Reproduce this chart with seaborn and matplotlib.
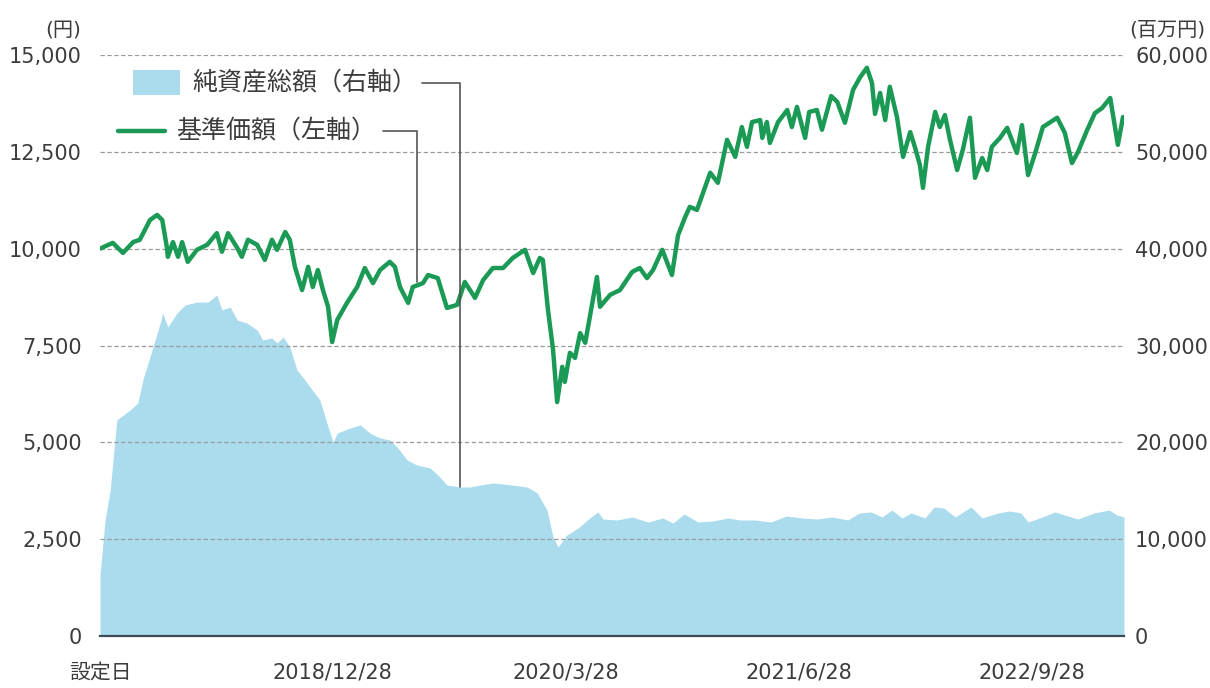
import matplotlib
matplotlib.use("Agg")
import matplotlib.pyplot as plt
import seaborn as sns
import pandas as pd
from matplotlib.lines import Line2D
from matplotlib.patches import Rectangle

# ---------------- data ----------------
start_date = "2017-09-28"
tick_dates = ["2017-09-28", "2018-12-28", "2020-03-28", "2021-06-28", "2022-09-28"]
tick_labels = ["設定日", "2018/12/28", "2020/3/28", "2021/6/28", "2022/9/28"]
end_day = 2007

# 基準価額 (円), x = days since 設定日
price_days = [0, 25, 45, 65, 78, 98, 112, 122, 131, 133, 143, 153, 161, 172, 190, 210, 229, 239,
              251, 269, 278, 290, 308, 323, 337, 347, 363, 372, 382, 396, 408, 417, 427, 437,
              447, 455, 465, 484, 504, 519, 535, 549, 568, 578, 588, 604, 613, 633, 643, 662,
              680, 700, 715, 735, 751, 770, 790, 809, 833, 849, 862, 868, 878, 888, 896, 906,
              911, 921, 931, 941, 951, 960, 974, 980, 1000, 1019, 1043, 1058, 1072, 1084, 1102,
              1121, 1133, 1147, 1156, 1170, 1182, 1196, 1211, 1229, 1245, 1258, 1268, 1278,
              1294, 1298, 1307, 1313, 1329, 1347, 1356, 1366, 1382, 1390, 1405, 1415, 1433,
              1445, 1460, 1476, 1490, 1503, 1513, 1519, 1529, 1539, 1548, 1562, 1574, 1588,
              1597, 1607, 1613, 1623, 1637, 1646, 1656, 1666, 1680, 1691, 1705, 1715, 1729,
              1739, 1748, 1764, 1778, 1797, 1807, 1819, 1833, 1848, 1876, 1891, 1905, 1917,
              1935, 1950, 1964, 1980, 1995, 2005]
price_values = [10000, 10150, 9890, 10170, 10230, 10740, 10870, 10740, 10040, 9790, 10170, 9790,
                10170, 9660, 9970, 10100, 10400, 9920, 10400, 10020, 9790, 10230, 10100, 9710,
                10230, 9970, 10430, 10230, 9530, 8930, 9530, 9010, 9450, 8930, 8500, 7590,
                8160, 8600, 9010, 9500, 9110, 9450, 9660, 9530, 9010, 8600, 9010, 9110, 9320,
                9240, 8470, 8550, 9140, 8730, 9190, 9500, 9500, 9760, 9970, 9370, 9760, 9710,
                8420, 7390, 6040, 6950, 6560, 7310, 7180, 7820, 7570, 8240, 9270, 8500, 8810,
                8930, 9400, 9500, 9240, 9450, 9970, 9320, 10350, 10820, 11080, 11000, 11440,
                11960, 11700, 12810, 12370, 13140, 12630, 13270, 13320, 12860, 13270, 12730,
                13270, 13580, 13140, 13660, 12860, 13530, 13580, 13070, 13940, 13790, 13250,
                14100, 14430, 14670, 14280, 13480, 14020, 13320, 14180, 13400, 12370, 13010,
                12630, 12160, 11570, 12630, 13530, 13140, 13450, 12810, 12030, 12550, 13380,
                11830, 12340, 12030, 12630, 12860, 13120, 12470, 13190, 11900, 12470, 13140,
                13380, 12990, 12210, 12500, 13070, 13500, 13630, 13890, 12680, 13400]

# 純資産総額 (百万円)
nav_days = [0, 10, 20, 33, 59, 74, 84, 102, 118, 123, 133, 151, 167, 190, 212, 229, 239, 255,
            269, 288, 308, 319, 337, 347, 359, 372, 386, 406, 416, 431, 447, 457, 465, 490,
            510, 529, 549, 568, 582, 602, 621, 647, 666, 680, 706, 725, 745, 770, 809, 837,
            857, 876, 888, 898, 915, 937, 960, 976, 986, 1013, 1043, 1074, 1103, 1123, 1145,
            1172, 1201, 1231, 1254, 1284, 1315, 1345, 1376, 1405, 1435, 1466, 1488, 1511,
            1533, 1552, 1572, 1590, 1617, 1635, 1654, 1676, 1707, 1729, 1760, 1782, 1805,
            1819, 1842, 1872, 1903, 1917, 1948, 1978, 1993, 2007]
nav_values = [6300, 11980, 15080, 22310, 23340, 24060, 26440, 29540, 32320, 33360, 31910,
              33360, 34180, 34490, 34490, 35220, 33670, 33980, 32630, 32320, 31600, 30570,
              30770, 30260, 30880, 29850, 27470, 26130, 25400, 24370, 21580, 20030, 20960,
              21480, 21790, 20960, 20450, 20240, 19520, 18180, 17660, 17350, 16420, 15590,
              15390, 15390, 15590, 15800, 15590, 15390, 14770, 13010, 10220, 9190, 10430,
              11150, 12190, 12810, 12080, 11980, 12290, 11770, 12190, 11670, 12600, 11770,
              11880, 12190, 11980, 11980, 11770, 12390, 12190, 12080, 12290, 11980, 12700,
              12810, 12290, 13010, 12190, 12700, 12190, 13320, 13220, 12290, 13320, 12190,
              12700, 12910, 12700, 11770, 12190, 12810, 12290, 12080, 12700, 13010, 12500,
              12290]

left_ticks = [0, 2500, 5000, 7500, 10000, 12500, 15000]
right_ticks = [0, 10000, 20000, 30000, 40000, 50000, 60000]

# ---------------- style ----------------
sns.set_style("white")
plt.rcParams["font.family"] = ["DejaVu Sans", "Noto Sans CJK JP"]

GREEN = "#1b9a55"
BLUE = "#aadcee"
TXT = "#3c3c3c"
GRID = "#9a9a9a"

W, H = 1210, 688
fig = plt.figure(figsize=(W / 100, H / 100), dpi=100)
ax = fig.add_axes([100 / W, 1 - 636 / H, (1124 - 100) / W, (636 - 55) / H])
ax2 = ax.twinx()

# area (right axis)
ax2.fill_between(nav_days, nav_values, color=BLUE, lw=0)
ax2.set_ylim(0, 60000)
ax2.set_yticks(right_ticks)
ax2.set_yticklabels([f"{v:,}" for v in right_ticks])

# price line (left axis), drawn on top
ax.set_zorder(ax2.get_zorder() + 1)
ax.patch.set_visible(False)
sns.lineplot(x=price_days, y=price_values, ax=ax, color=GREEN, lw=3.2, zorder=3)
ax.set_ylim(0, 15000)
ax.set_xlim(0, end_day)
ax.set_yticks(left_ticks)
ax.set_yticklabels([f"{v:,}" for v in left_ticks])

start = pd.Timestamp(start_date)
xt = [(pd.Timestamp(d) - start).days for d in tick_dates]
ax.set_xticks(xt)
ax.set_xticklabels(tick_labels)
ax.xaxis.get_major_ticks()[0].tick1line.set_visible(False)

# grid
ax.set_axisbelow(True)
ax.yaxis.grid(True, ls=(0, (3.5, 2)), color=GRID, lw=0.9)
ax.xaxis.grid(False)

for a in (ax, ax2):
    for s in a.spines.values():
        s.set_visible(False)
ax.spines["bottom"].set_visible(True)
ax.spines["bottom"].set_color("#3d4a55")
ax.spines["bottom"].set_linewidth(1.6)
ax.spines["bottom"].set_zorder(4)

ax.tick_params(axis="x", direction="in", length=8, width=1.4, color="#3d4a55",
               pad=19, labelsize=15, labelcolor=TXT)
ax.tick_params(axis="y", length=0, pad=13, labelsize=15, labelcolor=TXT)
ax2.tick_params(axis="y", length=0, pad=8, labelsize=15, labelcolor=TXT)
ax.set_xlabel("")
ax.set_ylabel("")

# units
fig.text(81 / W, 1 - 30 / H, "(円)", ha="right", va="center", fontsize=14.5, color=TXT)
fig.text(1129 / W, 1 - 30 / H, "(百万円)", ha="left", va="center", fontsize=14.5, color=TXT)

# legend with leader lines
def P(x, y):
    return x / W, 1 - y / H

fig.patches.append(Rectangle(P(133, 95), 47 / W, 25 / H, transform=fig.transFigure,
                             facecolor=BLUE, edgecolor="none"))
x0, y0 = P(118, 131)
x1, _ = P(165, 131)
fig.lines.append(Line2D([x0, x1], [y0, y0], transform=fig.transFigure, color=GREEN, lw=3.2))
fig.text(192 / W, 1 - 82 / H, "純資産総額（右軸）", ha="left", va="center", fontsize=18,
         color=TXT, family=["Noto Sans CJK JP", "DejaVu Sans"])
fig.text(176 / W, 1 - 131 / H, "基準価額（左軸）", ha="left", va="center", fontsize=18,
         color=TXT, family=["Noto Sans CJK JP", "DejaVu Sans"])

LEAD = "#555555"
xs = [P(422, 83)[0], P(460, 83)[0], P(460, 487)[0]]
ys = [P(422, 83)[1], P(460, 83)[1], P(460, 487)[1]]
fig.lines.append(Line2D(xs, ys, transform=fig.transFigure, color=LEAD, lw=1.2, zorder=1))
xs = [P(383, 131)[0], P(417, 131)[0], P(417, 282)[0]]
ys = [P(383, 131)[1], P(417, 131)[1], P(417, 282)[1]]
fig.lines.append(Line2D(xs, ys, transform=fig.transFigure, color=LEAD, lw=1.2, zorder=1))

fig.savefig("out.png", dpi=100)
